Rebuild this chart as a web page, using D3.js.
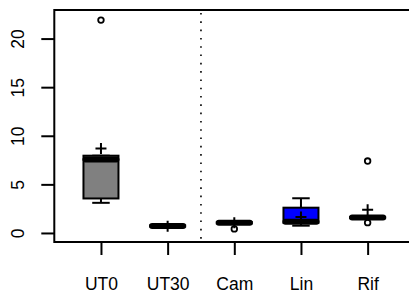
<!DOCTYPE html>
<html>
<head>
<meta charset="utf-8">
<script src="https://cdn.jsdelivr.net/npm/d3@7"></script>
<style>
  html, body { margin: 0; padding: 0; background: #fff; }
  svg { display: block; }
  text { font-family: "Liberation Sans", Arial, sans-serif; fill: #000; }
</style>
</head>
<body>
<script>
// ---- data ----
const categories = ["UT0", "UT30", "Cam", "Lin", "Rif"];
const whiskerLow  = [3.10, 0.62, 0.95, 0.75, 1.45];
const q1          = [3.55, 0.66, 0.98, 1.05, 1.52];
const medians     = [7.55, 0.72, 1.05, 1.15, 1.58];
const q3          = [7.95, 0.78, 1.12, 2.60, 1.65];
const whiskerHigh = [7.95, 0.82, 1.15, 3.57, 1.70];
const means       = [8.70, 0.68, 1.05, 1.65, 2.40];
const outliers    = [[21.9], [], [0.42], [], [7.4, 1.06]];
const yTicks      = [0, 5, 10, 15, 20];
const fills       = ["#808080", "#ffffff", "#ffffff", "#0000ff", "#ffffff"];

const W = 409, H = 293;
const svg = d3.select("body").append("svg").attr("width", W).attr("height", H);

const x = d3.scaleLinear().domain([0.3, 5.7]).range([54.3, 414.3]);
const y = d3.scaleLinear().domain([-0.93, 22.94]).range([242, 10]);
const unit = x(2) - x(1);
const boxW = unit * 0.525;
const capW = boxW / 2;
const medW = 6;

// frame
svg.append("rect")
  .attr("x", x(0.3)).attr("y", y(22.94))
  .attr("width", x(5.7) - x(0.3)).attr("height", y(-0.93) - y(22.94))
  .attr("fill", "none").attr("stroke", "#000").attr("stroke-width", 2);

// dotted separator
svg.append("line")
  .attr("x1", x(2.5)).attr("x2", x(2.5))
  .attr("y1", y(22.94) + 3).attr("y2", y(-0.93))
  .attr("stroke", "#000").attr("stroke-width", 1.6)
  .attr("stroke-dasharray", "1.6,6.7");

// y axis
const yAxis = d3.axisLeft(y).tickValues(yTicks).tickSize(13).tickPadding(0).tickFormat(d3.format("d"));
const gy = svg.append("g").attr("transform", `translate(${x(0.3)},0)`).call(yAxis);
gy.select(".domain").remove();
gy.selectAll(".tick line").attr("stroke", "#000").attr("stroke-width", 2);
gy.selectAll(".tick text").remove();
gy.selectAll(".tick").append("text")
  .attr("transform", "translate(-30.5,0) rotate(-90)")
  .attr("text-anchor", "middle")
  .attr("font-size", "17.5px")
  .text(d => d);

// x axis
const xAxis = d3.axisBottom(x).tickValues([1, 2, 3, 4, 5]).tickSize(13).tickPadding(0).tickFormat((d, i) => categories[i]);
const gx = svg.append("g").attr("transform", `translate(0,${y(-0.93)})`).call(xAxis);
gx.select(".domain").remove();
gx.selectAll(".tick line").attr("stroke", "#000").attr("stroke-width", 2);
gx.selectAll(".tick text").attr("dy", null).attr("y", 47.5)
  .attr("font-size", "17.5px").attr("fill", "#000");

// boxes
const g = svg.append("g");
categories.forEach((c, i) => {
  const cx = x(i + 1);
  // whiskers
  g.append("line").attr("x1", cx).attr("x2", cx)
    .attr("y1", y(q1[i])).attr("y2", y(whiskerLow[i]))
    .attr("stroke", "#000").attr("stroke-width", 2);
  g.append("line").attr("x1", cx).attr("x2", cx)
    .attr("y1", y(q3[i])).attr("y2", y(whiskerHigh[i]))
    .attr("stroke", "#000").attr("stroke-width", 2);
  g.append("line").attr("x1", cx - capW / 2).attr("x2", cx + capW / 2)
    .attr("y1", y(whiskerLow[i])).attr("y2", y(whiskerLow[i]))
    .attr("stroke", "#000").attr("stroke-width", 2);
  g.append("line").attr("x1", cx - capW / 2).attr("x2", cx + capW / 2)
    .attr("y1", y(whiskerHigh[i])).attr("y2", y(whiskerHigh[i]))
    .attr("stroke", "#000").attr("stroke-width", 2);
  // box
  g.append("rect")
    .attr("x", cx - boxW / 2).attr("y", y(q3[i]))
    .attr("width", boxW).attr("height", Math.max(0.5, y(q1[i]) - y(q3[i])))
    .attr("fill", fills[i]).attr("stroke", "#000").attr("stroke-width", 2);
  // median
  g.append("line").attr("x1", cx - boxW / 2 + medW / 2 - 1).attr("x2", cx + boxW / 2 - medW / 2 + 1)
    .attr("y1", y(medians[i])).attr("y2", y(medians[i]))
    .attr("stroke", "#000").attr("stroke-width", medW).attr("stroke-linecap", "round");
  // outliers
  outliers[i].forEach(v => {
    g.append("circle").attr("cx", cx).attr("cy", y(v)).attr("r", 2.8)
      .attr("fill", "none").attr("stroke", "#000").attr("stroke-width", 1.8);
  });
  // mean plus
  const my = y(means[i]);
  g.append("path")
    .attr("d", `M${cx - 5.5},${my}H${cx + 5.5}M${cx},${my - 5.5}V${my + 5.5}`)
    .attr("stroke", "#000").attr("stroke-width", 2).attr("fill", "none");
});
</script>
</body>
</html>
